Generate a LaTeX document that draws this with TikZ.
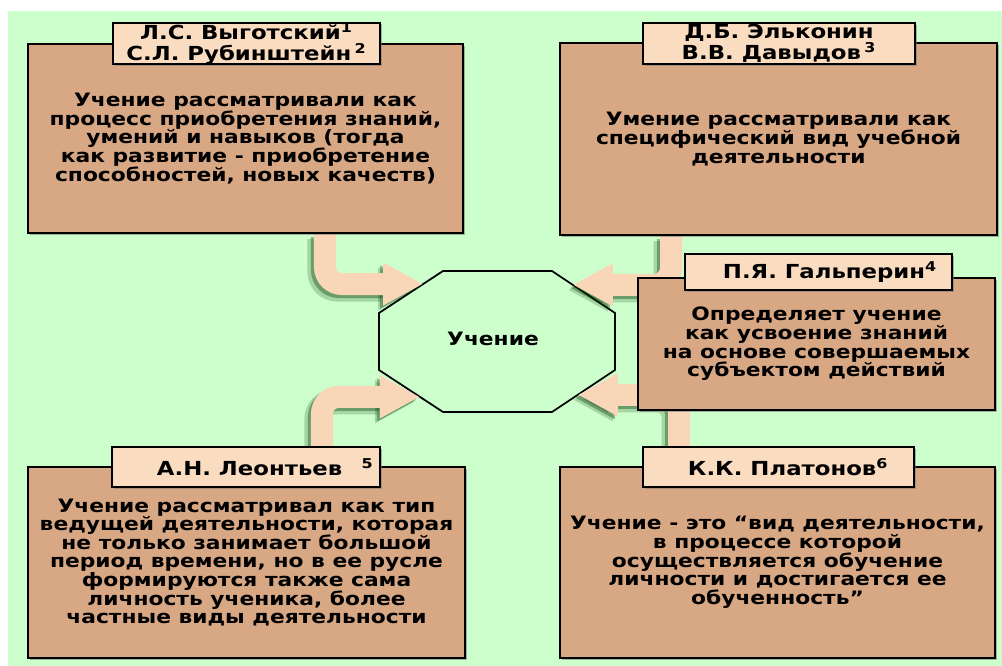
\documentclass[tikz,border=0pt]{standalone}
\usepackage{fontspec}
\newfontfamily\boxfont{DejaVu Sans}[FakeStretch=1.18]
\usetikzlibrary{arrows.meta,calc,shadows}
\definecolor{bggreen}{RGB}{204,255,204}
\definecolor{boxtan}{RGB}{216,168,132}
\definecolor{namepeach}{RGB}{250,220,192}
\definecolor{flowpeach}{RGB}{249,214,184}
\pgfdeclarelayer{back}
\pgfsetlayers{back,main}

\begin{document}
\begin{tikzpicture}[x=0.02cm,y=-0.02cm,
  every node/.style={font=\boxfont\bfseries\fontsize{10.5}{10.6}\selectfont, align=center, inner sep=0pt},
  mainbox/.style={draw=black, line width=1.4pt, fill=boxtan, drop shadow={shadow xshift=0.9pt, shadow yshift=-0.9pt, opacity=0.6}},
  namebox/.style={mainbox, fill=namepeach, font=\boxfont\bfseries\fontsize{11}{11.6}\selectfont},
  flow/.style={draw=flowpeach, line width=0.44cm, rounded corners=0.34cm, -{Triangle[length=0.8cm,width=0.8cm]}},
  flowshade/.style={flow, draw=black!80!green, opacity=#1},
  flowshade/.default=0.3]
  \useasboundingbox (0,0) rectangle (1002,666);
  \begin{pgfonlayer}{back}
    \fill[bggreen] (8,11) rectangle (1002,666);
  \end{pgfonlayer}
  % octagon
  \coordinate (o1) at (443,271); \coordinate (o2) at (552,271);
  \coordinate (o3) at (615,313); \coordinate (o4) at (615,370);
  \coordinate (o5) at (552,412); \coordinate (o6) at (443,412);
  \coordinate (o7) at (379,370); \coordinate (o8) at (379,313);
  \begin{pgfonlayer}{back}
    \draw[fill=bggreen, line width=1pt] (o1) -- (o2) -- (o3) -- (o4) -- (o5) -- (o6) -- (o7) -- (o8) -- cycle;
  \end{pgfonlayer}
  \node (uch) at (493,339) {Учение};
  % boxes
  \node[mainbox, minimum width=8.7cm, minimum height=3.78cm] (b1) at (245.5,138.5)
    {Учение рассматривали как\\процесс приобретения знаний,\\умений и навыков (тогда\\как развитие - приобретение\\способностей, новых качеств)};
  \node[namebox, minimum width=5.34cm, minimum height=0.82cm] (n1) at (246.5,43.5)
    {Л.С. Выготский\textsuperscript{1}\\С.Л. Рубинштейн\,\textsuperscript{2}};
  \node[mainbox, minimum width=8.74cm, minimum height=3.84cm] (b2) at (778.5,139)
    {Умение рассматривали как\\специфический вид учебной\\деятельности};
  \node[namebox, minimum width=5.44cm, minimum height=0.82cm] (n2) at (779,43.5)
    {Д.Б. Эльконин\\В.В. Давыдов\,\textsuperscript{3}};
  \node[mainbox, minimum width=7.14cm, minimum height=2.64cm] (b3) at (816.5,344)
    {Определяет учение\\как усвоение знаний\\на основе совершаемых\\субъектом действий};
  \node[namebox, minimum width=5.34cm, minimum height=0.72cm] (n3) at (818.5,272)
    {\hspace{1.2em}П.Я. Гальперин\textsuperscript{4}};
  \node[mainbox, minimum width=8.74cm, minimum height=3.82cm] (b4) at (246.5,562.5)
    {Учение рассматривал как тип\\ведущей деятельности, которая\\не только занимает большой\\период времени, но в ее русле\\формируются также сама\\личность ученика, более\\частные виды деятельности};
  \node[namebox, minimum width=5.36cm, minimum height=0.8cm] (n4) at (246,467)
    {\hspace{2em}А.Н. Леонтьев\quad\textsuperscript{5}};
  \node[mainbox, minimum width=8.7cm, minimum height=3.82cm] (b5) at (777.5,562.5)
    {Учение - это “вид деятельности,\\в процессе которой\\осуществляется обучение\\личности и достигается ее\\обученность”};
  \node[namebox, minimum width=5.42cm, minimum height=0.8cm] (n5) at (778.5,467)
    {\hspace{1em}К.К. Платонов\textsuperscript{6}};
  % arrows into the octagon
  \coordinate (t1) at ($(o8)!0.69!(o1)$);
  \coordinate (t2) at ($(o2)!0.33!(o3)$);
  \coordinate (t3) at ($(o7)!0.64!(o6)$);
  \coordinate (t4) at ($(o5)!0.41!(o4)$);
  \begin{pgfonlayer}{back}
    \foreach \from/\dx/\to in {b1.south/1.59/t1, b2.south/-2.15/t2, n4.north/1.52/t3, n5.north/-1.99/t4} {
      \begin{scope}[transform canvas={xshift=-0.1cm, yshift=-0.1cm}]
        \draw[flowshade=0.2, line width=0.5cm] ([xshift=\dx cm]\from) |- (\to);
      \end{scope}
      \begin{scope}[transform canvas={xshift=-0.06cm, yshift=-0.06cm}]
        \draw[flowshade=0.35] ([xshift=\dx cm]\from) |- (\to);
      \end{scope}
      \draw[flow] ([xshift=\dx cm]\from) |- (\to);
    }
  \end{pgfonlayer}
\end{tikzpicture}
\end{document}
